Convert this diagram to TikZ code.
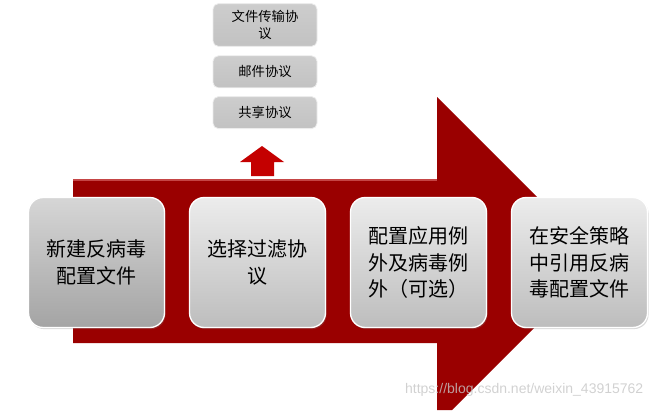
\documentclass[tikz,border=0pt]{standalone}
\usepackage{fontspec}
\setsansfont{Liberation Sans}
\newfontfamily\cjk{Noto Sans CJK SC}
\usetikzlibrary{positioning, shadows}

\begin{document}
\begin{tikzpicture}[
    x=0.75pt, y=-0.75pt,
    font=\cjk,
    stepbox/.style={rounded corners=11pt, draw=white, line width=1pt,
        minimum width=102pt, minimum height=97.5pt, align=center,
        font=\cjk\fontsize{15}{20}\selectfont,
        top color=boxtop, bottom color=boxbot,
        drop shadow={opacity=0.3, shadow xshift=0.8pt, shadow yshift=-1.2pt}},
    protobox/.style={rounded corners=4pt, draw=gray!15, line width=0.6pt,
        minimum width=78pt, align=center,
        font=\cjk\fontsize{10}{13}\selectfont,
        top color=protop, bottom color=probot}
]
    % 画布尺寸 655 x 410
    \path[use as bounding box] (0, 0) rectangle (655, 410);

    % ==========================================
    % 配色
    % ==========================================
    \definecolor{bigred}{HTML}{9A0000}    % 大箭头: 暗红
    \definecolor{edgered}{HTML}{C54545}   % 箭杆上沿高光
    \definecolor{upred}{HTML}{C40000}     % 小箭头: 亮红
    \definecolor{boxtop}{HTML}{ECECEC}
    \definecolor{boxbot}{HTML}{BDBDBD}
    \definecolor{firsttop}{HTML}{D6D6D6}
    \definecolor{firstbot}{HTML}{A4A4A4}
    \definecolor{protop}{HTML}{CDCDCD}
    \definecolor{probot}{HTML}{C2C2C2}

    % ==========================================
    % 大箭头 (流程方向)
    % ==========================================
    \fill[bigred] (73, 179) -- (437, 179) -- (437, 97) -- (601, 261)
        -- (452, 410) -- (437, 410) -- (437, 343) -- (73, 343) -- cycle;
    \draw[edgered, line width=1.5pt] (73, 180) -- (437, 180);

    % 小箭头 (指向协议)
    \fill[upred] (251, 176) -- (251, 162) -- (240, 162) -- (262, 146)
        -- (284, 162) -- (274, 162) -- (274, 176) -- cycle;

    % ==========================================
    % 协议列表
    % ==========================================
    \node[protobox, minimum height=32pt] (ftp) at (265, 25) {文件传输协\\议};
    \node[protobox, minimum height=24pt, below=6.5pt of ftp] (mail) {邮件协议};
    \node[protobox, minimum height=24pt, below=6pt of mail] (share) {共享协议};

    % ==========================================
    % 四个步骤
    % ==========================================
    \node[stepbox, top color=firsttop, bottom color=firstbot] (newprof) at (96.5, 262.5)
        {新建反病毒\\配置文件};
    \node[stepbox, right=17.75pt of newprof] (filter) {选择过滤协\\议};
    \node[stepbox, right=17.75pt of filter] (except) {配置应用例\\外及病毒例\\外（可选）};
    \node[stepbox, right=17.75pt of except] (policy) {在安全策略\\中引用反病\\毒配置文件};

    % 水印
    \node[font=\sffamily\fontsize{10.5}{12}\selectfont, text=gray!45, text opacity=0.8,
        anchor=east] (mark) at (648, 390) {https://blog.csdn.net/weixin\_43915762};

\end{tikzpicture}
\end{document}
